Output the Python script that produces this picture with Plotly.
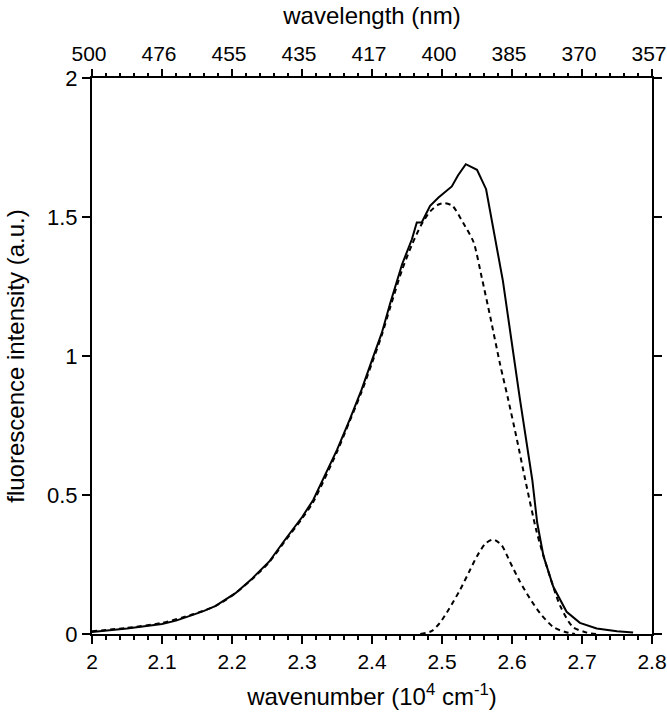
import plotly.graph_objects as go

# Total fluorescence (solid)
total_wn = [2.00, 2.05, 2.10, 2.12, 2.143, 2.16, 2.176, 2.205, 2.229, 2.253, 2.276, 2.30,
            2.316, 2.35, 2.368, 2.385, 2.400, 2.414, 2.426, 2.443, 2.457, 2.464, 2.471,
            2.483, 2.495, 2.514, 2.523, 2.534, 2.55, 2.563, 2.587, 2.611, 2.629, 2.636,
            2.645, 2.659, 2.678, 2.697, 2.721, 2.75, 2.773]
total_int = [0.007, 0.02, 0.036, 0.048, 0.068, 0.083, 0.10, 0.147, 0.20, 0.26, 0.34, 0.42,
             0.482, 0.662, 0.77, 0.878, 0.985, 1.083, 1.19, 1.33, 1.42, 1.48, 1.48,
             1.54, 1.57, 1.61, 1.65, 1.69, 1.67, 1.60, 1.27, 0.85, 0.554, 0.40,
             0.28, 0.17, 0.08, 0.04, 0.02, 0.01, 0.005]

# Main component (dashed)
main_wn = [2.00, 2.05, 2.10, 2.143, 2.176, 2.205, 2.229, 2.253, 2.276, 2.30, 2.316, 2.35,
           2.368, 2.385, 2.40, 2.414, 2.426, 2.443, 2.457, 2.47, 2.483, 2.495, 2.504,
           2.515, 2.53, 2.545, 2.557, 2.569, 2.583, 2.594, 2.607, 2.619, 2.635, 2.65,
           2.669, 2.687, 2.707, 2.72]
main_int = [0.01, 0.022, 0.04, 0.07, 0.10, 0.147, 0.198, 0.258, 0.335, 0.415, 0.475, 0.655,
            0.765, 0.87, 0.975, 1.075, 1.175, 1.31, 1.40, 1.47, 1.52, 1.545, 1.55,
            1.54, 1.48, 1.41, 1.28, 1.14, 0.97, 0.85, 0.70, 0.554, 0.37, 0.24,
            0.10, 0.025, 0.005, 0.0]

# Minor component (dashed)
minor_wn = [2.469, 2.485, 2.497, 2.51, 2.526, 2.54, 2.55, 2.562, 2.573, 2.585, 2.597,
            2.611, 2.625, 2.64, 2.659, 2.675, 2.69]
minor_int = [0.0, 0.01, 0.04, 0.09, 0.16, 0.23, 0.28, 0.325, 0.34, 0.32, 0.26,
             0.19, 0.13, 0.075, 0.025, 0.008, 0.0]

# Axis ticks
wn_ticks = [2.0, 2.1, 2.2, 2.3, 2.4, 2.5, 2.6, 2.7, 2.8]
wn_labels = ["2", "2.1", "2.2", "2.3", "2.4", "2.5", "2.6", "2.7", "2.8"]
wl_labels = ["500", "476", "455", "435", "417", "400", "385", "370", "357"]
y_ticks = [0, 0.5, 1, 1.5, 2]
y_labels = ["0", "0.5", "1", "1.5", "2"]

FONT = "Liberation Sans, Arial, sans-serif"
DASH = "5px,4px"

fig = go.Figure()
fig.add_trace(go.Scatter(x=main_wn, y=main_int, mode="lines",
                         line=dict(color="black", width=2, dash=DASH, shape="spline", smoothing=0.7),
                         showlegend=False))
fig.add_trace(go.Scatter(x=minor_wn, y=minor_int, mode="lines",
                         line=dict(color="black", width=2, dash=DASH, shape="spline", smoothing=0.7),
                         showlegend=False))
fig.add_trace(go.Scatter(x=total_wn, y=total_int, mode="lines",
                         line=dict(color="black", width=2), showlegend=False))
# invisible trace to anchor the top axis
fig.add_trace(go.Scatter(x=[2.0, 2.8], y=[0, 0], xaxis="x2", mode="lines",
                         line=dict(width=0), opacity=0, showlegend=False, hoverinfo="skip"))

tick_style = dict(ticks="outside", ticklen=8, tickwidth=2, tickcolor="black",
                  automargin=False, ticklabeloverflow="allow")
minor_style = dict(dtick=0.02, ticks="outside", ticklen=4, tickwidth=2, tickcolor="black")

fig.update_layout(
    width=667, height=720,
    margin=dict(l=92, r=15, t=78, b=86),
    paper_bgcolor="white", plot_bgcolor="white",
    font=dict(family=FONT, size=22, color="black"),
    xaxis=dict(range=[2.0, 2.8], tickvals=wn_ticks, ticktext=wn_labels,
               minor=minor_style, **tick_style, tickfont=dict(size=21),
               showline=True, linewidth=2, linecolor="black", mirror=True,
               showgrid=False, zeroline=False,
               title=dict(text="wavenumber (10<sup>4</sup> cm<sup>-1</sup>)",
                          font=dict(size=24), standoff=16)),
    xaxis2=dict(range=[2.0, 2.8], overlaying="x", side="top", anchor="y",
                tickvals=wn_ticks, ticktext=wl_labels,
                minor=minor_style, **tick_style, tickfont=dict(size=21),
                ticklabelshift=-3,
                showline=False, showgrid=False, zeroline=False,
                title=dict(text="wavelength (nm)", font=dict(size=24), standoff=10)),
    yaxis=dict(range=[0, 2], tickvals=y_ticks, ticktext=y_labels, **tick_style,
               tickfont=dict(size=22),
               showline=True, linewidth=2, linecolor="black", mirror="ticks",
               showgrid=False, zeroline=False,
               title=dict(text="fluorescence intensity (a.u.)",
                          font=dict(size=24), standoff=16)),
)

fig.write_html("out.html", config={"displayModeBar": False},
               post_script="document.body.style.margin='0';")
